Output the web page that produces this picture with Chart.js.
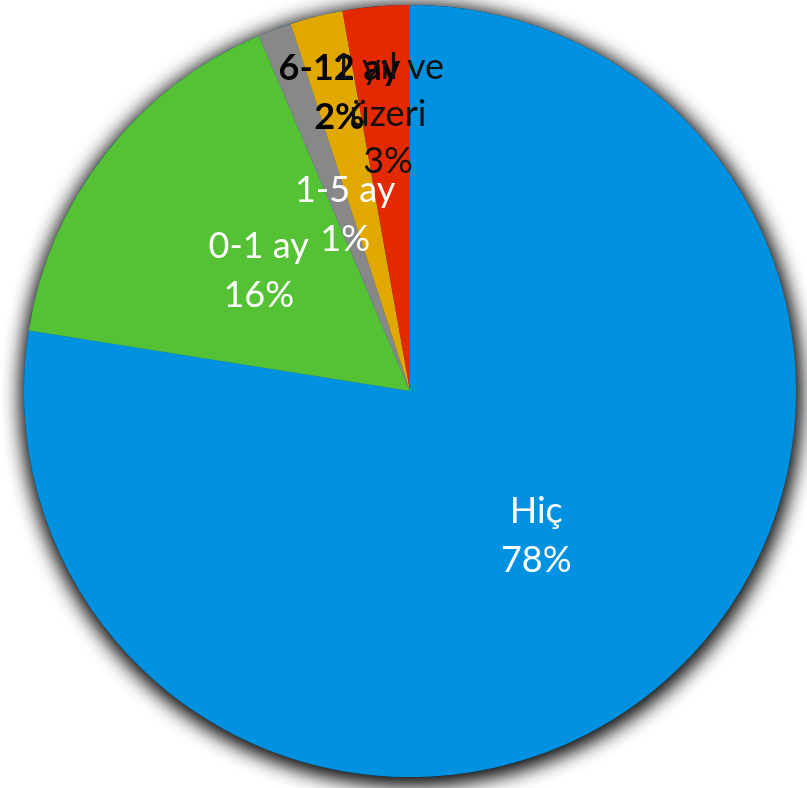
<!DOCTYPE html>
<html>
<head>
<meta charset="utf-8">
<script src="https://cdn.jsdelivr.net/npm/chart.js@4.4.1/dist/chart.umd.min.js"></script>
<style>
  html, body { margin: 0; padding: 0; background: #fff; }
  #wrap { width: 807px; height: 788px; position: relative; }
</style>
</head>
<body>
<div id="wrap"><canvas id="pieChart"></canvas></div>
<script>
        // data
        const categories = ['Hiç', '0-1 ay', '1-5 ay', '6-12 ay', '1 yıl ve üzeri'];
        const shares = [77.5, 16.1, 1.4, 2.2, 2.8];
        const sliceColors = ['#0092E1', '#55C134', '#888888', '#E1A900', '#E42800'];

        // label text lines, colour, weight and where the block sits (fraction of radius from centre)
        const labelLines = [['Hiç'], ['0-1 ay'], ['1-5 ay'], ['6-12 ay'], ['1 yıl ve', 'üzeri']];
        const labelColors = ['#ffffff', '#ffffff', '#ffffff', '#000000', '#111111'];
        const labelBold = [false, false, false, true, false];
        const labelSpots = [[0.327, 0.375], [-0.392, -0.31], [-0.168, -0.455], [-0.183, -0.772], [-0.057, -0.716]];

        const pieShadow = {
            id: 'pieShadow',
            beforeDatasetsDraw(chart) {
                const arc = chart.getDatasetMeta(0).data[0];
                if (!arc) return;
                const ctx = chart.ctx;
                ctx.save();
                ctx.shadowColor = 'rgba(0,0,0,0.9)';
                ctx.shadowBlur = 22;
                ctx.shadowOffsetX = 1;
                ctx.shadowOffsetY = 4;
                ctx.fillStyle = '#0b5d8f';
                for (let k = 0; k < 2; k++) {
                    ctx.beginPath();
                    ctx.arc(arc.x, arc.y, arc.outerRadius, 0, Math.PI * 2);
                    ctx.fill();
                }
                ctx.restore();
            }
        };

        const sliceLabels = {
            id: 'sliceLabels',
            afterDatasetsDraw(chart) {
                const meta = chart.getDatasetMeta(0);
                const ctx = chart.ctx;
                ctx.save();
                ctx.textAlign = 'center';
                ctx.textBaseline = 'middle';
                meta.data.forEach((arc, i) => {
                    const r = arc.outerRadius;
                    const cx = arc.x + labelSpots[i][0] * r;
                    const cy = arc.y + labelSpots[i][1] * r;
                    const lines = labelLines[i].concat([Math.round(shares[i]) + '%']);
                    const gap = lines.length > 2 ? 47 : 49;
                    ctx.font = (labelBold[i] ? 'bold ' : '') + '36px Lato, "Open Sans", sans-serif';
                    ctx.fillStyle = labelColors[i];
                    lines.forEach((txt, k) => {
                        const y = cy + (k - (lines.length - 1) / 2) * gap;
                        ctx.fillText(txt, cx, y);
                    });
                });
                ctx.restore();
            }
        };

        new Chart(document.getElementById('pieChart'), {
            type: 'pie',
            data: {
                labels: categories,
                datasets: [{
                    data: shares,
                    backgroundColor: sliceColors,
                    borderWidth: 0
                }]
            },
            options: {
                responsive: true,
                maintainAspectRatio: false,
                animation: false,
                layout: { padding: { left: 24, right: 11, top: 5, bottom: 11 } },
                plugins: {
                    legend: { display: false },
                    tooltip: { enabled: false }
                }
            },
            plugins: [pieShadow, sliceLabels]
        });
</script>
</body>
</html>
